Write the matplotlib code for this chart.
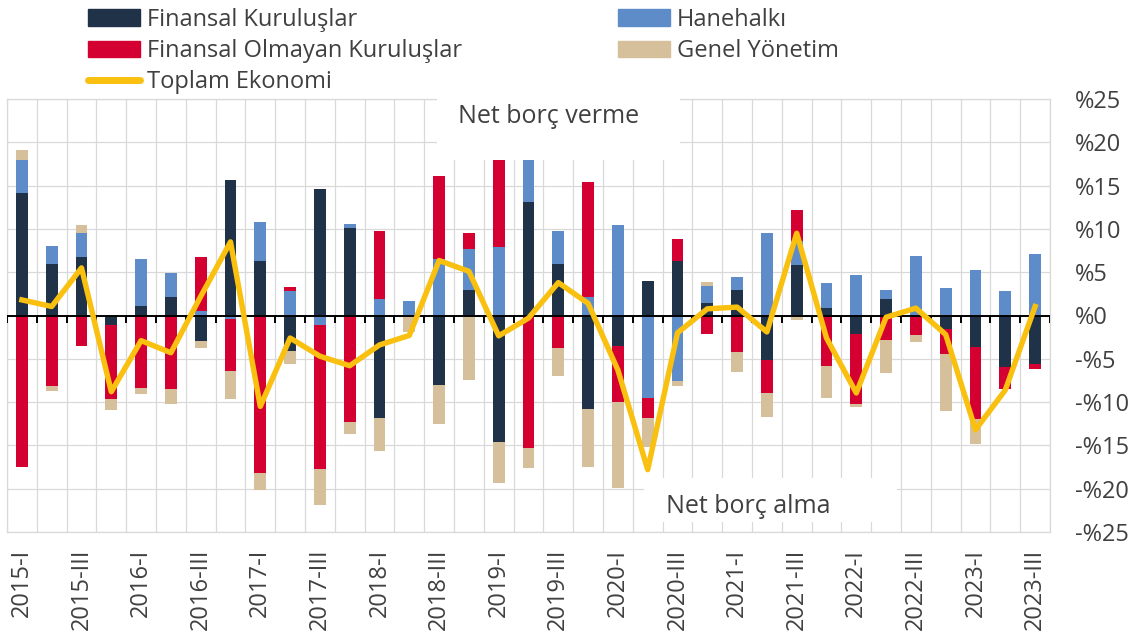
import matplotlib
matplotlib.use("Agg")
import matplotlib.pyplot as plt
from matplotlib.patches import Patch, Rectangle
from matplotlib.lines import Line2D
import numpy as np

plt.rcParams['font.family'] = ['Open Sans', 'DejaVu Sans']

quarters = ["2015-I", "2015-II", "2015-III", "2015-IV",
            "2016-I", "2016-II", "2016-III", "2016-IV",
            "2017-I", "2017-II", "2017-III", "2017-IV",
            "2018-I", "2018-II", "2018-III", "2018-IV",
            "2019-I", "2019-II", "2019-III", "2019-IV",
            "2020-I", "2020-II", "2020-III", "2020-IV",
            "2021-I", "2021-II", "2021-III", "2021-IV",
            "2022-I", "2022-II", "2022-III", "2022-IV",
            "2023-I", "2023-II", "2023-III"]

finansal_kurulus = [14.2, 5.96, 6.7, -1.1, 1.04, 2.08, -3.0, 15.7, 6.35, -4.07,
                    14.6, 10.15, -11.8, 0.0, -8.0, 2.9, -14.57, 13.15, 5.9, -10.8,
                    -3.5, 4.04, 6.3, 1.5, 3.0, -5.1, 5.85, 0.92, -2.1, 1.93,
                    0.0, -1.6, -3.65, -5.96, -5.57]
hanehalki = [3.76, 2.11, 2.87, 0.0, 5.46, 2.82, 0.54, -0.4, 4.45, 2.85,
             -1.1, 0.45, 1.93, 1.7, 6.5, 4.8, 7.96, 5.5, 3.87, 2.1,
             10.5, -9.57, -7.53, 1.85, 1.5, 9.57, 2.7, 2.78, 4.7, 0.97,
             6.9, 3.2, 5.27, 2.8, 7.08]
finansal_olmayan = [-17.5, -8.1, -3.57, -8.5, -8.4, -8.45, 6.26, -6.05, -18.2, 0.45,
                    -16.6, -12.26, 7.87, 0.0, 9.6, 1.8, 10.5, -15.3, -3.7, 13.3,
                    -6.5, -2.28, 2.55, -2.15, -4.2, -3.9, 3.6, -5.8, -8.1, -2.8,
                    -2.2, -2.9, -8.3, -2.54, -0.63]
genel_yonetim = [1.14, -0.6, 0.83, -1.3, -0.67, -1.75, -0.8, -3.2, -2.0, -1.53,
                 -4.2, -1.44, -3.8, -1.9, -4.5, -7.5, -4.73, -2.3, -3.3, -6.65,
                 -9.9, -3.35, -0.57, 0.55, -2.3, -2.75, -0.5, -3.7, -0.4, -3.8,
                 -0.9, -6.5, -2.85, 0.0, 0.0]
toplam = [1.8, 1.04, 5.5, -8.8, -2.9, -4.3, 2.2, 8.5, -10.5, -2.6,
          -4.7, -5.8, -3.4, -2.3, 6.35, 5.1, -2.35, -0.3, 3.8, 1.4,
          -6.3, -17.8, -2.0, 0.77, 0.97, -1.9, 9.5, -2.6, -8.95, -0.2,
          0.85, -2.2, -13.2, -8.6, 1.04]

series_names = ["Finansal Kuruluşlar", "Hanehalkı", "Finansal Olmayan Kuruluşlar", "Genel Yönetim"]
line_name = "Toplam Ekonomi"

C_FK = "#1F3247"
C_HH = "#5E8CC8"
C_FOK = "#D50032"
C_GY = "#D6BF9B"
C_TOT = "#F9C00F"
C_GRID = "#D9D9D9"
C_TEXT = "#404040"

W, H = 1137, 639
fig = plt.figure(figsize=(W / 100, H / 100), dpi=100)
ax = fig.add_axes([7 / W, 1 - 532 / H, (1050 - 7) / W, (532 - 99) / H])

x = np.arange(len(quarters))
pos_bottom = np.zeros(len(x))
neg_bottom = np.zeros(len(x))
for vals, col in zip([finansal_kurulus, hanehalki, finansal_olmayan, genel_yonetim],
                     [C_FK, C_HH, C_FOK, C_GY]):
    v = np.array(vals, dtype=float)
    pos = np.where(v > 0, v, 0)
    neg = np.where(v < 0, v, 0)
    ax.bar(x, pos, width=0.4, bottom=pos_bottom, color=col, zorder=3, linewidth=0)
    ax.bar(x, neg, width=0.4, bottom=neg_bottom, color=col, zorder=3, linewidth=0)
    pos_bottom += pos
    neg_bottom += neg

ax.plot(x, toplam, color=C_TOT, lw=3.9, zorder=6, solid_joinstyle='round')

# zero line with small category ticks
ax.axhline(0, color="black", lw=1.4, zorder=4)
bounds = np.arange(-0.5, len(x), 1.0)
ax.vlines(bounds, -0.9, 0, color="black", lw=1.4, zorder=4)

ax.set_xlim(-0.5, len(x) - 0.5)
ax.set_ylim(-25, 25)

ax.set_xticks(bounds, minor=True)
ax.set_xticks(x[::2])
ax.set_xticklabels(quarters[::2], rotation=90, fontsize=17, color=C_TEXT, va='top')
yt = np.arange(-25, 26, 5)
ax.set_yticks(yt)
ax.set_yticklabels([("-%" + str(abs(v))) if v < 0 else ("%" + str(v)) for v in yt],
                   fontsize=17, color=C_TEXT, ha='left')
ax.yaxis.tick_right()
ax.tick_params(axis='y', length=0, pad=18)
ax.tick_params(axis='x', which='both', length=0, pad=12)

ax.grid(axis='y', which='major', color=C_GRID, lw=0.9, zorder=0)
ax.grid(axis='x', which='minor', color=C_GRID, lw=0.9, zorder=0)
ax.set_axisbelow(True)
for s in ax.spines.values():
    s.set_color(C_GRID)
    s.set_linewidth(0.9)

# white annotation boxes
ax.add_patch(Rectangle((13.93, 17.95), 22.1 - 13.93, 8.5, facecolor="white",
                       edgecolor="none", zorder=7, clip_on=False))
ax.add_patch(Rectangle((20.87, -23.9), 29.36 - 20.87, 23.9 - 18.72, facecolor="white",
                       edgecolor="none", zorder=7))
ax.text(17.68, 23.0, "Net borç verme", fontsize=18, color=C_TEXT, ha='center', va='center', zorder=8)
ax.text(24.36, -22.1, "Net borç alma", fontsize=18, color=C_TEXT, ha='center', va='center', zorder=8)

handles = [Patch(color=C_FK), Patch(color=C_FOK),
           Line2D([], [], color=C_TOT, lw=5, solid_capstyle='round'),
           Patch(color=C_HH), Patch(color=C_GY)]
labels = [series_names[0], series_names[2], line_name, series_names[1], series_names[3]]
leg = fig.legend(handles, labels, ncol=2, loc='upper left', bbox_to_anchor=(88 / W, 1 - 8 / H),
                 frameon=False, fontsize=17, handlelength=2.2, handleheight=0.7,
                 handletextpad=0.3, columnspacing=6.6, labelspacing=0.3,
                 borderpad=0, borderaxespad=0)
for t in leg.get_texts():
    t.set_color(C_TEXT)

fig.savefig("out.png", dpi=100)
